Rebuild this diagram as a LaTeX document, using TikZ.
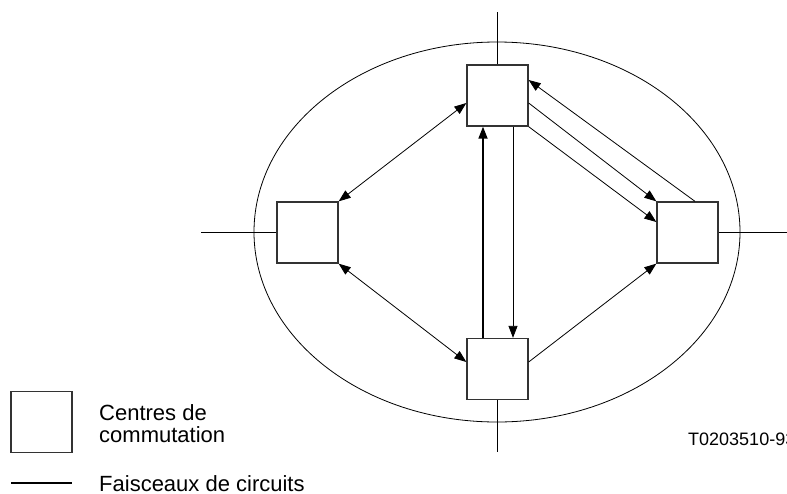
\documentclass[tikz,border=0pt]{standalone}
\usepackage{fontspec}
\setmainfont{Liberation Sans}
\usepackage{tikz}
\usetikzlibrary{arrows.meta}

\begin{document}
\begin{tikzpicture}[x=1pt, y=-1pt, >={Triangle[length=12pt,width=9pt]}]
\tikzstyle{centre}=[draw=black!80, line width=1.3pt, fill=white, minimum size=61pt, inner sep=0pt]
\tikzstyle{liaison}=[line width=0.8pt]
\tikzstyle{faisceau}=[line width=1.7pt]
\useasboundingbox (0,0) rectangle (787,493);
\draw[line width=0.8pt] (497,232) ellipse [x radius=243pt, y radius=190pt];
\node[centre] (top) at (497.5,95.5) {};
\node[centre] (left) at (307.5,232.5) {};
\node[centre] (right) at (687.5,232.5) {};
\node[centre] (bot) at (497.5,369) {};
\coordinate (topend) at (497.5,12);
\coordinate (leftend) at (201,232.5);
\coordinate (rightend) at (787,232.5);
\coordinate (botend) at (497.5,452);
\draw[faisceau] (top.north) -- (topend) (left.west) -- (leftend)
  (right.east) -- (rightend) (bot.south) -- (botend);
\draw[liaison, <->] (left.north east) -- ([yshift=-7.5pt]top.west);
\draw[liaison, <->] (left.south east) -- ([yshift=7pt]bot.west);
\draw[liaison, ->] ([yshift=7pt]bot.east) -- (right.south west);
\draw[faisceau, ->] ([xshift=-14.5pt]bot.north) -- ([xshift=-14.5pt]top.south);
\draw[liaison, ->] ([xshift=15.5pt]top.south) -- ([xshift=15.5pt]bot.north);
\draw[liaison, ->] ([xshift=7.5pt]right.north) -- ([yshift=15.5pt]top.east);
\draw[liaison, ->] ([yshift=-7.5pt]top.east) -- (right.north west);
\draw[liaison, ->] (top.south east) -- ([yshift=10.5pt]right.west);
% legende
\node[centre] (lgbox) at (41.5,422) {};
\node[anchor=base west, align=left, inner sep=0pt, font=\fontsize{22}{22}\selectfont] (lgtext) at (99,442) {Centres de\\commutation};
\coordinate (lga) at (11,483);
\coordinate (lgb) at (72,483);
\draw[faisceau] (lga) -- (lgb);
\node[anchor=base west, inner sep=0pt, font=\fontsize{22}{22}\selectfont] (lgline) at (99,491) {Faisceaux de circuits};
\node[anchor=base west, inner sep=0pt, font=\fontsize{18}{18}\selectfont] (ref) at (688,445) {T0203510-93};
\end{tikzpicture}
\end{document}
